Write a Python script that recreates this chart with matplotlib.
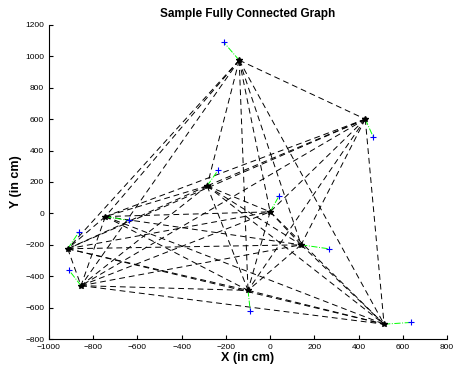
import matplotlib
matplotlib.use('Agg')
import matplotlib.pyplot as plt
import itertools

plt.rcParams['font.family'] = ['Liberation Sans', 'DejaVu Sans']

# node positions (black stars)
node_x = [-140, 430, -285, -745, -915, -855, 0, 140, -100, 515]
node_y = [975, 600, 175, -20, -225, -460, 10, -200, -490, -705]
# measured positions (blue pluses)
meas_x = [-210, 466, -234, -640, -865, -910, 41, 264, -90, 638]
meas_y = [1090, 487, 278, -45, -120, -360, 113, -225, -620, -694]

fig = plt.figure(figsize=(4.53, 3.71), dpi=100)
ax = fig.add_axes([0.108, 0.086, 0.879, 0.847])

# every pair of nodes
for i, j in itertools.combinations(range(len(node_x)), 2):
    ax.plot([node_x[i], node_x[j]], [node_y[i], node_y[j]], 'k--', linewidth=0.7, dashes=(6, 4))

for i in range(len(node_x)):
    ax.plot([node_x[i], meas_x[i]], [node_y[i], meas_y[i]], color='#00ff00', linestyle='-.', linewidth=0.7)

ax.plot(node_x, node_y, 'k*', markersize=4, linestyle='none')
ax.plot(meas_x, meas_y, 'b+', markersize=4, markeredgewidth=0.8, linestyle='none')

ax.set_xlim(-1000, 800)
ax.set_ylim(-800, 1200)
ax.set_xticks(range(-1000, 801, 200))
ax.set_yticks(range(-800, 1201, 200))
ax.spines['top'].set_visible(False)
ax.spines['right'].set_visible(False)
ax.tick_params(direction='in', labelsize=6, length=3)
ax.set_title('Sample Fully Connected Graph', fontsize=8.5, fontweight='bold')
ax.set_xlabel('X (in cm)', fontsize=9, fontweight='bold', labelpad=1)
ax.set_ylabel('Y (in cm)', fontsize=9, fontweight='bold', labelpad=2)

plt.savefig('out.png', dpi=100)
